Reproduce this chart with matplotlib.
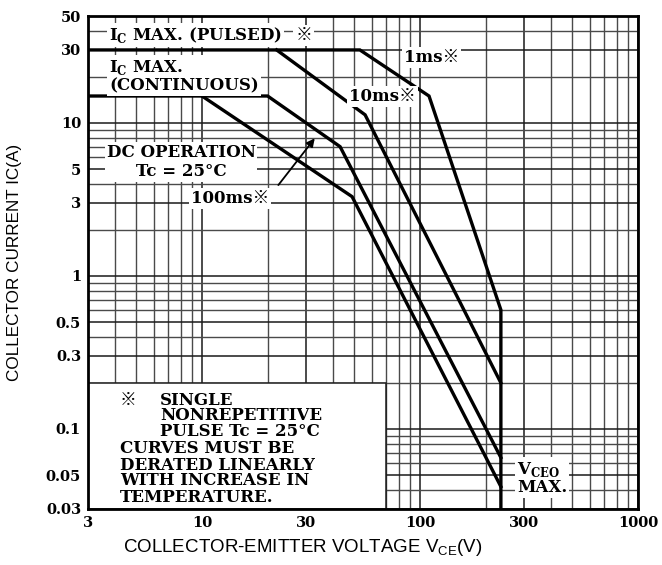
import matplotlib
matplotlib.use("Agg")
import matplotlib.pyplot as plt
from matplotlib.ticker import FixedLocator, NullFormatter, LogLocator
from matplotlib.patches import Rectangle

# ---- data ----
x_ticks = [3, 10, 30, 100, 300, 1000]
x_ticklabels = ["3", "10", "30", "100", "300", "1000"]
y_ticks = [0.03, 0.05, 0.1, 0.3, 0.5, 1, 3, 5, 10, 30, 50]
y_ticklabels = ["0.03", "0.05", "0.1", "0.3", "0.5", "1", "3", "5", "10", "30", "50"]

v_1ms = [3, 53, 110, 235, 235]
i_1ms = [30, 30, 15, 0.6, 0.03]
v_10ms = [22, 56, 235]
i_10ms = [30, 11.3, 0.2]
v_100ms = [3, 20, 43, 235]
i_100ms = [15, 15, 7.0, 0.065]
v_dc = [10, 48.8, 235]
i_dc = [15, 3.3, 0.042]

arrow_tail = (22, 3.8)
arrow_tip = (33.5, 8.2)
note_box_v = [3, 70]
note_box_i = [0.03, 0.2]

serif = ["DejaVu Serif", "Noto Sans CJK JP"]

fig = plt.figure(figsize=(6.62, 5.65), dpi=100)
ax = fig.add_axes([88/662, 1-509/565, 550/662, 493/565])
ax.set_xscale("log")
ax.set_yscale("log")
ax.set_xlim(3, 1000)
ax.set_ylim(0.03, 50)

ax.xaxis.set_major_locator(FixedLocator(x_ticks))
ax.yaxis.set_major_locator(FixedLocator(y_ticks))
ax.xaxis.set_minor_locator(LogLocator(base=10, subs=range(1, 10), numticks=20))
ax.yaxis.set_minor_locator(LogLocator(base=10, subs=range(1, 10), numticks=20))
ax.xaxis.set_minor_formatter(NullFormatter())
ax.yaxis.set_minor_formatter(NullFormatter())
ax.set_xticklabels(x_ticklabels, fontfamily="DejaVu Serif", fontweight="bold", fontsize=10.5)
ax.set_yticklabels(y_ticklabels, fontfamily="DejaVu Serif", fontweight="bold", fontsize=10.5)
ax.tick_params(which="both", length=0, pad=5)

ax.set_axisbelow(True)
ax.grid(which="minor", color="#4a4a4a", lw=1.0)
ax.grid(which="major", color="#1a1a1a", lw=1.1)
for s in ax.spines.values():
    s.set_linewidth(2)
    s.set_zorder(6)

# note box (white region without grid)
ax.add_patch(Rectangle((note_box_v[0], note_box_i[0]), note_box_v[1]-note_box_v[0],
                       note_box_i[1]-note_box_i[0], facecolor="white",
                       edgecolor="#1a1a1a", lw=1.1, zorder=1))

lw = 2.4
for v, i in [(v_1ms, i_1ms), (v_10ms, i_10ms), (v_100ms, i_100ms), (v_dc, i_dc)]:
    ax.plot(v, i, color="black", lw=lw, zorder=3, solid_joinstyle="miter")

ax.annotate("", xy=arrow_tip, xytext=arrow_tail,
            arrowprops=dict(arrowstyle="-|>", color="black", lw=1.3, mutation_scale=12),
            zorder=5)

bb = dict(facecolor="white", edgecolor="none", pad=1.5)
fs = 12
def lab(x, y, s, ha="left", va="center", box=True, **kw):
    ax.text(x, y, s, transform=ax.transAxes, ha=ha, va=va, fontsize=fs,
            family=serif, fontweight="bold", bbox=bb if box else None, zorder=4, **kw)

lab(0.038, 0.961, "I$_\\mathregular{C}$ MAX. (PULSED)")
lab(0.392, 0.961, "※", ha="center", )
lab(0.038, 0.878, "I$_\\mathregular{C}$ MAX.\n(CONTINUOUS)", linespacing=1.0)
lab(0.169, 0.703, "DC OPERATION\nTc = 25°C", ha="center", linespacing=1.15, multialignment="center")
lab(0.258, 0.629, "100ms※", ha="center")
lab(0.624, 0.915, "1ms※", ha="center")
lab(0.535, 0.836, "10ms※", ha="center")
lab(0.78, 0.063, "V$_\\mathregular{CEO}$\nMAX.", linespacing=1.0)

note_lines = [(0.058, 0.221, "※"), (0.131, 0.221, "SINGLE"), (0.131, 0.189, "NONREPETITIVE"),
              (0.131, 0.157, "PULSE Tc = 25°C"), (0.058, 0.122, "CURVES MUST BE"),
              (0.058, 0.089, "DERATED LINEARLY"), (0.058, 0.057, "WITH INCREASE IN"),
              (0.058, 0.024, "TEMPERATURE.")]
for x, y, s in note_lines:
    lab(x, y, s, box=False)

fig.text(15/662, 1-262/565, "COLLECTOR CURRENT IC(A)", rotation=90, ha="center", va="center",
         family="Liberation Sans", fontsize=12.3)
fig.text(303/662, 1-548/565, "COLLECTOR-EMITTER VOLTAGE V$_\\mathregular{CE}$(V)", ha="center", va="center",
         family="Liberation Sans", fontsize=13.5)

fig.savefig("out.png", dpi=100)
